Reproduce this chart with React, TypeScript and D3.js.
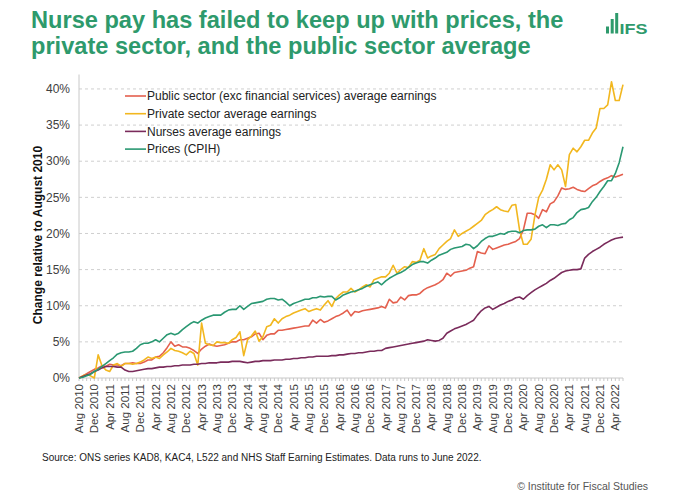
import React from "react";
import * as d3 from "d3";

// ---- Data (percent change relative to August 2010), monthly Aug 2010 .. Jun 2022 ----
const startMonth = new Date(2010, 7, 1);
const endMonthExclusive = new Date(2022, 6, 1);

const publicSector: number[] = [
  0, 0.3, 0.6, 0.9, 1.2, 1.4, 1.7, 1.6, 1.9, 1.8, 1.8, 1.7,
  2.0, 2.0, 2.1, 2.0, 2.0, 2.2, 2.5, 2.5, 2.9, 3.0, 3.5, 4.2,
  5.0, 4.4, 4.6, 4.3, 4.3, 4.1, 3.8, 3.4, 4.0, 4.4, 4.7, 4.5,
  4.4, 4.5, 4.6, 4.8, 5.0, 5.0, 5.3, 5.3, 5.5, 5.7, 6.1, 6.2,
  5.3, 5.9, 6.1, 6.1, 6.6, 6.6, 6.7, 6.8, 6.9, 7.0, 7.1, 7.2,
  7.2, 8.0, 7.6, 8.1, 7.7, 7.9, 8.2, 8.5, 8.7, 9.0, 9.4, 8.6,
  9.2, 9.1, 9.3, 9.4, 9.5, 9.6, 9.7, 9.9, 9.7, 10.9, 10.4, 10.5,
  11.2, 10.8, 11.4, 11.5, 11.5, 11.7, 12.2, 12.5, 12.7, 12.9, 13.2, 13.6,
  14.5, 14.1, 14.6, 14.7, 14.8, 14.9, 15.2, 15.4, 17.5, 17.3, 17.2, 18.3,
  17.8, 18.0, 18.2, 18.4, 18.5, 18.7, 18.9, 19.3, 20.5, 22.8, 22.8, 22.6,
  22.1, 23.3, 23.0, 24.1, 24.4, 25.2, 26.3, 26.1, 26.2, 26.4, 26.1, 25.9,
  25.8, 26.2, 26.6, 26.8, 27.2, 27.5, 27.7, 28.0, 27.8, 28.0, 28.2,
];

const privateSector: number[] = [
  0, 0.3, 0.5, 0.3, 0.0, 3.2, 1.7, 1.1, 0.9, 1.8, 2.0, 1.6,
  2.0, 2.0, 1.9, 2.0, 2.2, 2.5, 2.9, 2.7, 2.9, 2.7, 3.2, 3.6,
  4.1, 3.8, 3.7, 3.5, 3.2, 3.7, 3.4, 1.8, 7.6, 4.8, 4.6, 4.5,
  5.0, 4.9, 4.9, 4.8, 5.3, 5.6, 6.4, 3.1, 5.3, 5.8, 6.5, 5.1,
  5.7, 7.1, 7.3, 8.2, 7.6, 8.2, 8.5, 8.7, 9.0, 9.2, 9.4, 9.6,
  9.2, 9.4, 9.6, 9.4, 10.1, 10.7, 9.9, 11.0, 11.5, 11.9, 11.9, 12.4,
  11.9, 12.2, 12.6, 12.9, 12.6, 13.6, 13.8, 14.0, 14.0, 14.5, 15.6, 14.5,
  15.0, 15.4, 15.3, 16.1, 16.0, 16.3, 17.9, 16.6, 16.9, 17.1, 17.9, 18.4,
  18.9, 19.3, 20.5, 19.6, 20.0, 20.3, 20.6, 21.0, 21.4, 21.8, 22.6, 23.0,
  23.3, 23.7, 23.3, 23.1, 23.0, 23.9, 24.0, 20.5, 18.5, 18.5, 19.2, 22.5,
  25.0, 26.0, 27.5, 29.5, 28.8, 29.5, 28.8, 26.5, 30.9, 31.8, 31.3, 32.0,
  32.9, 32.9, 33.9, 34.6, 37.3, 37.3, 37.8, 41.0, 38.4, 38.4, 40.6,
];

const nurses: number[] = [
  0, 0.2, 0.4, 0.6, 0.9, 1.1, 1.4, 1.6, 1.6, 1.6, 1.5, 1.5,
  1.1, 0.9, 0.9, 1.0, 1.1, 1.2, 1.3, 1.3, 1.4, 1.5, 1.5, 1.6,
  1.6, 1.7, 1.7, 1.8, 1.8, 1.8, 1.9, 1.9, 2.0, 2.0, 2.1, 2.1,
  2.1, 2.2, 2.2, 2.2, 2.3, 2.3, 2.3, 2.2, 2.1, 2.2, 2.3, 2.3,
  2.4, 2.4, 2.4, 2.5, 2.5, 2.5, 2.6, 2.6, 2.7, 2.7, 2.8, 2.8,
  2.9, 2.9, 3.0, 3.0, 3.0, 3.0, 3.1, 3.1, 3.2, 3.2, 3.3, 3.4,
  3.4, 3.5, 3.5, 3.6, 3.7, 3.7, 3.8, 3.8, 4.1, 4.2, 4.3, 4.4,
  4.5, 4.6, 4.7, 4.8, 4.9, 5.0, 5.1, 5.3, 5.2, 5.1, 5.2, 5.5,
  6.2, 6.5, 6.8, 7.0, 7.2, 7.4, 7.7, 8.0, 8.7, 9.3, 9.7, 9.9,
  9.5, 9.8, 10.1, 10.3, 10.6, 10.8, 11.1, 11.2, 10.9, 11.4, 11.8, 12.2,
  12.5, 12.8, 13.1, 13.5, 13.8, 14.2, 14.6, 14.8, 14.9, 15.0, 15.0, 15.1,
  16.6, 17.1, 17.5, 17.8, 18.1, 18.5, 18.8, 19.1, 19.3, 19.4, 19.5,
];

const pricesCPIH: number[] = [
  0, 0.1, 0.3, 0.5, 0.9, 1.2, 1.6, 2.0, 2.4, 2.8, 3.3, 3.5,
  3.6, 3.6, 3.7, 4.1, 4.6, 4.8, 4.8, 5.0, 5.3, 5.0, 5.5, 6.0,
  6.2, 6.0, 6.2, 6.7, 7.1, 7.5, 7.8, 7.6, 8.0, 8.3, 8.5, 8.7,
  8.7, 8.7, 9.1, 9.4, 9.5, 9.5, 10.0, 9.5, 9.9, 10.3, 10.4, 10.5,
  10.6, 10.9, 11.0, 11.0, 10.8, 10.9, 10.5, 10.0, 10.3, 10.5, 10.7, 10.9,
  10.9, 11.1, 11.1, 11.3, 11.2, 11.3, 11.3, 10.8, 11.1, 11.5, 11.7, 11.9,
  12.0, 12.2, 12.4, 12.7, 12.9, 13.1, 13.3, 12.9, 13.4, 13.8, 14.1, 14.4,
  14.6, 14.9, 15.3, 15.7, 15.9, 16.1, 16.1, 15.9, 16.3, 16.6, 17.0, 17.2,
  17.4, 17.8, 18.0, 18.1, 18.2, 18.5, 18.4, 17.9, 18.3, 18.9, 19.3, 19.6,
  19.6, 19.8, 20.0, 19.9, 20.2, 20.3, 20.3, 20.1, 20.4, 20.5, 20.5, 20.6,
  21.0, 21.2, 20.8, 21.2, 21.2, 21.1, 21.3, 21.4, 21.9, 22.2, 22.9, 23.3,
  23.4, 23.6, 24.4, 25.0, 25.8, 26.5, 27.3, 27.3, 28.3, 29.8, 32.0,
];

const seriesNames = [
  "Public sector (exc financial services) average earnings",
  "Private sector average earnings",
  "Nurses average earnings",
  "Prices (CPIH)",
];
const seriesColors = ["#e4604e", "#f2b71f", "#7a2b5b", "#2a9872"];

const yTickValues = [0, 5, 10, 15, 20, 25, 30, 35, 40];
const xTickLabels = [
  "Aug 2010", "Dec 2010", "Apr 2011", "Aug 2011", "Dec 2011", "Apr 2012",
  "Aug 2012", "Dec 2012", "Apr 2013", "Aug 2013", "Dec 2013", "Apr 2014",
  "Aug 2014", "Dec 2014", "Apr 2015", "Aug 2015", "Dec 2015", "Apr 2016",
  "Aug 2016", "Dec 2016", "Apr 2017", "Aug 2017", "Dec 2017", "Apr 2018",
  "Aug 2018", "Dec 2018", "Apr 2019", "Aug 2019", "Dec 2019", "Apr 2020",
  "Aug 2020", "Dec 2020", "Apr 2021", "Aug 2021", "Dec 2021", "Apr 2022",
];

const titleLines = [
  "Nurse pay has failed to keep up with prices, the",
  "private sector, and the public sector average",
];
const yAxisTitle = "Change relative to August 2010";
const sourceText =
  "Source: ONS series KAD8, KAC4, L522 and NHS Staff Earning Estimates. Data runs to June 2022.";
const copyrightText = "\u00A9 Institute for Fiscal Studies";

const FONT = "'Liberation Sans', Arial, Helvetica, sans-serif";
const GREEN = "#2e9a6c";

export default function App() {
  const W = 680;
  const H = 495;
  const months = d3.timeMonth.range(startMonth, endMonthExclusive);
  const idx = months.map((_, i) => i);
  const x = d3.scaleLinear().domain([0, months.length - 1]).range([79, 623]);
  const y = d3.scaleLinear().domain([0, 42]).range([378, 74.5]);
  const fmt = d3.timeFormat("%b %Y");
  const labelMonths = idx.filter((i) => xTickLabels.includes(fmt(months[i])));

  const line = d3
    .line<number>()
    .x((_, i) => x(i))
    .y((d) => y(d))
    .curve(d3.curveLinear);

  const allSeries = [publicSector, privateSector, nurses, pricesCPIH];

  return (
    <svg
      width={W}
      height={H}
      viewBox={`0 0 ${W} ${H}`}
      style={{ position: "absolute", left: 0, top: 0, background: "#fff", fontFamily: FONT }}
    >
      <rect x={0} y={0} width={W} height={H} fill="#ffffff" />
      {/* Title */}
      {titleLines.map((t, i) => (
        <text
          key={t}
          x={31}
          y={28 + i * 26}
          fontSize={23.6}
          fontWeight="bold"
          fill={GREEN}
        >
          {t}
        </text>
      ))}
      {/* IFS logo */}
      <g fill={GREEN}>
        <rect x={606} y={26.5} width={3} height={7} />
        <rect x={610.7} y={19} width={3} height={14.5} />
        <rect x={615.2} y={13} width={3} height={20.5} />
        <text x={619.5} y={33.5} fontSize={15} fontWeight="bold" textLength={28} lengthAdjust="spacingAndGlyphs">
          IFS
        </text>
      </g>

      {/* Gridlines */}
      {yTickValues.filter((v) => v > 0).map((v) => (
        <line
          key={v}
          x1={x(0)}
          x2={x(months.length - 1)}
          y1={y(v)}
          y2={y(v)}
          stroke="#cfcfcf"
          strokeWidth={1}
          strokeDasharray="3,3"
        />
      ))}
      {/* Y axis */}
      <line x1={x(0)} x2={x(0)} y1={y(0)} y2={y(42)} stroke="#c8c8c8" strokeWidth={1} />
      {yTickValues.map((v) => (
        <text
          key={v}
          x={70}
          y={y(v)}
          dy="0.35em"
          textAnchor="end"
          fontSize={12}
          fill="#404040"
        >
          {`${v}%`}
        </text>
      ))}
      <text
        transform={`translate(41.5, ${235}) rotate(-90)`}
        textAnchor="middle"
        fontSize={12}
        fontWeight="bold"
        fill="#111"
      >
        {yAxisTitle}
      </text>

      {/* X axis */}
      <line x1={x(0)} x2={x(months.length - 1)} y1={y(0)} y2={y(0)} stroke="#c8c8c8" strokeWidth={1} />
      {idx.map((i) => (
        <line key={i} x1={x(i)} x2={x(i)} y1={y(0)} y2={y(0) + 3} stroke="#c8c8c8" strokeWidth={1} />
      ))}
      {labelMonths.map((i) => (
        <text
          key={i}
          transform={`translate(${x(i)}, ${y(0) + 6}) rotate(-90)`}
          textAnchor="end"
          dy="0.35em"
          fontSize={11.5}
          fill="#404040"
        >
          {fmt(months[i])}
        </text>
      ))}

      {/* Lines */}
      {allSeries.map((s, k) => (
        <path
          key={k}
          d={line(s) ?? ""}
          fill="none"
          stroke={seriesColors[k]}
          strokeWidth={1.6}
          strokeLinejoin="round"
        />
      ))}

      {/* Legend */}
      {seriesNames.map((n, k) => (
        <g key={n} transform={`translate(125, ${96 + k * 17.7})`}>
          <line x1={0} x2={21} y1={0} y2={0} stroke={seriesColors[k]} strokeWidth={1.6} />
          <text x={22} y={0} dy="0.35em" fontSize={12} fill="#222">
            {n}
          </text>
        </g>
      ))}

      {/* Footer */}
      <text x={42} y={461} fontSize={10} fill="#222">
        {sourceText}
      </text>
      <text x={648} y={490} textAnchor="end" fontSize={10.5} fill="#555">
        {copyrightText}
      </text>
    </svg>
  );
}
